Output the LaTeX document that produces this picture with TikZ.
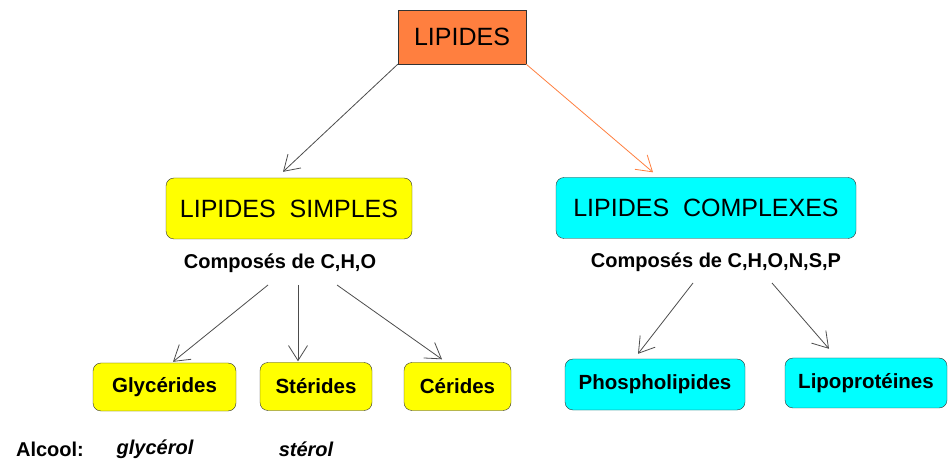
\documentclass[tikz,border=0pt]{standalone}
\usepackage{fontspec}
\setmainfont{Liberation Sans}
\usetikzlibrary{arrows.meta,positioning,calc}
\definecolor{lipidorange}{RGB}{255,127,63}
\definecolor{simpleyellow}{RGB}{255,255,0}
\definecolor{complexcyan}{RGB}{0,255,255}

\begin{document}
\begin{tikzpicture}[
    x=1pt, y=-1pt,
    root/.style={rectangle, draw=black!80, fill=lipidorange, minimum width=128pt, minimum height=54pt, font=\fontsize{25}{30}\selectfont},
    family/.style={rectangle, draw=black!80, rounded corners=8pt, minimum height=61pt, font=\fontsize{25}{30}\selectfont},
    leaf/.style={rectangle, draw=black!80, rounded corners=8pt, minimum height=48pt, font=\fontsize{20.5}{24}\selectfont\bfseries},
    note/.style={font=\fontsize{20}{24}\selectfont\bfseries},
    alcohol/.style={font=\fontsize{20}{24}\selectfont\bfseries\itshape},
    arrow/.style={-{Straight Barb[length=15pt,width=19pt]}, draw=black!70, line width=0.8pt}
]
\useasboundingbox (0,0) rectangle (951,462);

% Root
\node[root] (lipides) at (462,37) {LIPIDES};

% Families
\node[family, fill=simpleyellow, minimum width=246pt] (simples) at (289,208.5) {LIPIDES\ \ SIMPLES};
\node[family, fill=complexcyan, minimum width=300pt] (complexes) at (706,208) {LIPIDES\ \ COMPLEXES};
\node[note] (chosimple) at (280,263) {Composés de C,H,O};
\node[note] (chocomplex) at (716,262) {Composés de C,H,O,N,S,P};

% Simple lipids
\node[leaf, fill=simpleyellow, minimum width=143pt] (glycerides) at (164.5,387) {Glycérides};
\node[leaf, fill=simpleyellow, minimum width=112pt] (sterides) at (316,386.5) {Stérides};
\node[leaf, fill=simpleyellow, minimum width=107pt] (cerides) at (457.5,386.5) {Cérides};

% Complex lipids
\node[leaf, fill=complexcyan, minimum width=180pt, minimum height=51pt] (phospho) at (655,384.5) {Phospholipides};
\node[leaf, fill=complexcyan, minimum width=162pt, minimum height=50pt] (lipoprot) at (866,383) {Lipoprotéines};

% Alcohols
\node[note] (alcool) at (50,449) {Alcool:};
\node[alcohol] (glycerol) at (155,449) {glycérol};
\node[alcohol] (sterol) at (306,449) {stérol};

% Connections
\draw[arrow] (lipides.south west) -- ([xshift=-6pt,yshift=6pt]simples.north);
\draw[arrow, draw=lipidorange] (lipides.south east) -- ([xshift=-53pt,yshift=5pt]complexes.north);
\draw[arrow] ([xshift=-12pt,yshift=-22pt]chosimple.center) -- ([xshift=8.5pt,yshift=1pt]glycerides.north);
\draw[arrow] ([xshift=18pt,yshift=-22pt]chosimple.center) -- ([xshift=-18pt,yshift=1pt]sterides.north);
\draw[arrow] ([xshift=57pt,yshift=-22pt]chosimple.center) -- ([xshift=-15.5pt,yshift=3pt]cerides.north);
\draw[arrow] ([xshift=-23pt,yshift=-21pt]chocomplex.center) -- ([xshift=-17pt,yshift=5pt]phospho.north);
\draw[arrow] ([xshift=56pt,yshift=-21pt]chocomplex.center) -- ([xshift=-37pt,yshift=9pt]lipoprot.north);

\end{tikzpicture}
\end{document}
